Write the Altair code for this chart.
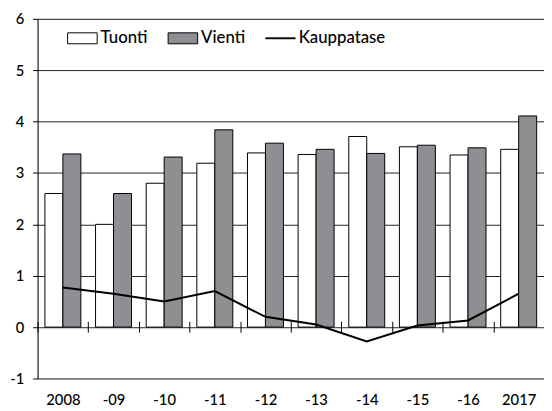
import altair as alt
import pandas as pd

years = ["2008", "-09", "-10", "-11", "-12", "-13", "-14", "-15", "-16", "2017"]
tuonti = [2.6, 2.0, 2.8, 3.19, 3.39, 3.36, 3.71, 3.51, 3.35, 3.46]
vienti = [3.37, 2.6, 3.31, 3.84, 3.58, 3.46, 3.38, 3.54, 3.49, 4.11]
kauppatase = [0.77, 0.65, 0.5, 0.7, 0.2, 0.05, -0.28, 0.03, 0.13, 0.65]
series = ["Tuonti", "Vienti", "Kauppatase"]
colors = ["#ffffff", "#8e8e93", "#000000"]
y_ticks = [-1, 0, 1, 2, 3, 4, 5, 6]

FONT = "Lato"
WEIGHT = 500
W, H = 514, 365
step = W / len(years)

RECT = "M-1,-0.37H1V0.37H-1Z"
THIN = "M-1,-0.03H1V0.03H-1Z"
shapes = [RECT, RECT, THIN]

bars_df = pd.DataFrame({
    "year": years * 2,
    "series": ["Tuonti"] * len(years) + ["Vienti"] * len(years),
    "value": tuonti + vienti,
})
line_df = pd.DataFrame({"year": years, "series": "Kauppatase", "value": kauppatase})

x_scale = alt.Scale(paddingInner=0.29, paddingOuter=0.145)
y_scale = alt.Scale(domain=[-1, 6], nice=False, zero=False)
fill_scale = alt.Scale(domain=series, range=colors)

x_axis = alt.Axis(
    title=None, domain=False, labelAngle=0,
    labelFont=FONT, labelFontSize=15, labelFontWeight=WEIGHT, labelColor="black",
    tickColor="black", tickSize=11, tickWidth=1,
    tickOffset=-step / 2, labelOffset=step / 2,
    offset=-58, labelPadding=61,
)
y_axis = alt.Axis(
    title=None, values=y_ticks,
    labelExpr="datum.value < 0 ? '-' + abs(datum.value) : '' + datum.value",
    labelFont=FONT, labelFontSize=15, labelFontWeight=WEIGHT, labelColor="black", labelPadding=9,
    domainColor="black", domainWidth=1,
    tickColor="black", tickSize=5, tickWidth=1,
    grid=True, gridColor="#222222", gridWidth=1, gridOpacity=1,
)


def make_legend():
    return alt.Legend(
        title=None, orient="none", direction="horizontal",
        legendX=30, legendY=4,
        labelFont=FONT, labelFontSize=17, labelFontWeight=WEIGHT, labelColor="black",
        labelOffset=3, columnPadding=18,
        symbolSize=900, symbolStrokeColor="black", symbolStrokeWidth=1,
        symbolOpacity=1,
    )


bars = alt.Chart(bars_df).mark_bar(stroke="black", strokeWidth=1).encode(
    x=alt.X("year:N", sort=years, scale=x_scale, axis=x_axis),
    xOffset=alt.XOffset("series:N", sort=["Tuonti", "Vienti"], scale=alt.Scale(paddingInner=0, paddingOuter=0)),
    y=alt.Y("value:Q", scale=y_scale, axis=y_axis),
    fill=alt.Fill("series:N", scale=fill_scale, legend=make_legend()),
)

line = alt.Chart(line_df).mark_line(color="black", strokeWidth=2).encode(
    x=alt.X("year:N", sort=years),
    y=alt.Y("value:Q"),
)

legend_layer = alt.Chart(line_df).transform_filter("false").mark_point(
    filled=True, strokeWidth=1, opacity=1
).encode(
    x=alt.X("year:N", sort=years),
    y=alt.Y("value:Q"),
    fill=alt.Fill("series:N", scale=fill_scale, legend=make_legend()),
    stroke=alt.Stroke("series:N", scale=alt.Scale(domain=series, range=["black", "black", "black"]), legend=make_legend()),
    shape=alt.Shape("series:N", scale=alt.Scale(domain=series, range=shapes), legend=make_legend()),
)

chart = alt.layer(bars, line, legend_layer).properties(
    width=W, height=H,
    autosize=alt.AutoSizeParams(type="none"),
    padding={"left": 30, "top": 8, "right": 0, "bottom": 30},
).configure_view(stroke=None).configure(background="white")

chart.save("out.html", embed_options={"renderer": "svg", "actions": False})
